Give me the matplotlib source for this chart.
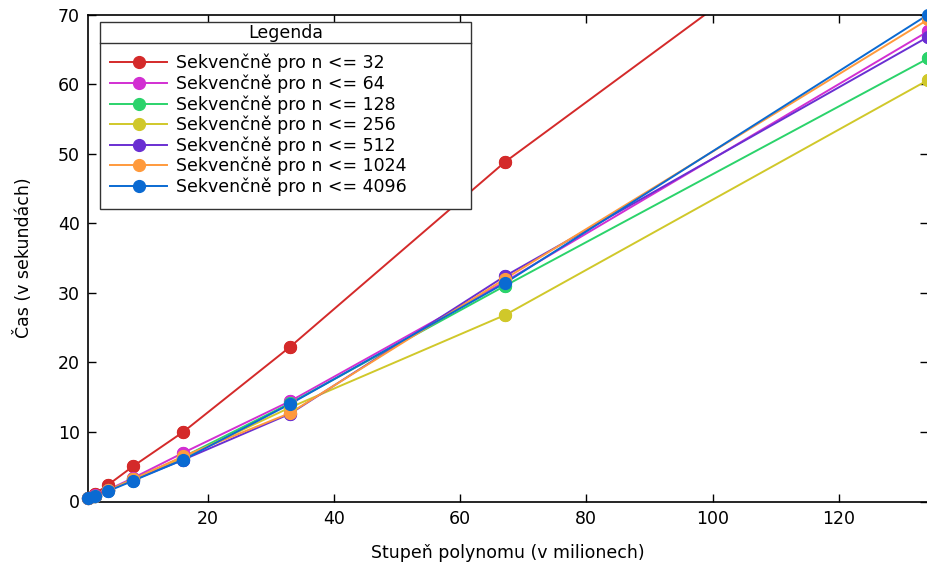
import matplotlib
matplotlib.use("Agg")
import matplotlib.pyplot as plt
from matplotlib.lines import Line2D
from matplotlib.patches import Rectangle

# stupen polynomu v milionech
degrees = [1.05, 2.1, 4.2, 8.2, 16.1, 33.0, 67.1, 134.2]

labels = ["Sekvenčně pro n <= 32", "Sekvenčně pro n <= 64", "Sekvenčně pro n <= 128",
          "Sekvenčně pro n <= 256", "Sekvenčně pro n <= 512", "Sekvenčně pro n <= 1024",
          "Sekvenčně pro n <= 4096"]

t32 = [0.55, 1.1, 2.4, 5.1, 10.0, 22.2, 48.8, 93.6]
t64 = [0.45, 0.9, 1.7, 3.4, 7.0, 14.4, 31.6, 67.6]
t128 = [0.45, 0.85, 1.6, 3.2, 6.4, 14.1, 31.0, 63.7]
t256 = [0.45, 0.85, 1.6, 3.2, 6.3, 13.5, 26.8, 60.6]
t512 = [0.45, 0.8, 1.6, 3.1, 6.0, 12.6, 32.4, 66.8]
t1024 = [0.45, 0.8, 1.6, 3.2, 6.5, 12.7, 32.0, 69.3]
t4096 = [0.45, 0.8, 1.5, 3.0, 6.0, 14.0, 31.4, 70.0]

series = [t32, t64, t128, t256, t512, t1024, t4096]
colors = ["#d42a2a", "#d22fd2", "#2bd36b", "#d0c82a", "#6a2fd2", "#ff9a3c", "#0a6ad2"]

plt.rcParams['font.family'] = ['DejaVu Sans']
plt.rcParams['font.size'] = 12.5

W, H = 928, 567
fig = plt.figure(figsize=(W / 100, H / 100), dpi=100)
ax = fig.add_axes([88.3 / W, 65.5 / H, 840 / W, 487 / H])

for ys, c, lab in zip(series, colors, labels):
    ax.plot(degrees, ys, "-o", color=c, lw=1.4, ms=8.5, label=lab)
    ax.plot(degrees, ys, "o", color=c, ms=8.5, clip_on=False, zorder=3)

ax.set_xlim(degrees[0], degrees[-1])
ax.set_ylim(0, 70)
ax.set_xticks([20, 40, 60, 80, 100, 120])
ax.set_yticks(range(0, 71, 10))
ax.tick_params(direction="in", length=6, width=1, top=True, right=True, pad=6)
for s in ax.spines.values():
    s.set_linewidth(1.2)

ax.set_xlabel("Stupeň polynomu (v milionech)", labelpad=12)
ax.set_ylabel("Čas (v sekundách)", labelpad=18)

# legend box with title row, like gnuplot
x0, x1, ytop, ysep, ybot = 99.7, 471.3, 22.3, 43.3, 209.0
fig.add_artist(Rectangle((x0 / W, 1 - ybot / H), (x1 - x0) / W, (ybot - ytop) / H,
                         transform=fig.transFigure, facecolor="white",
                         edgecolor="#333333", lw=1.0, zorder=5))
fig.add_artist(Line2D([x0 / W, x1 / W], [1 - ysep / H, 1 - ysep / H],
                      color="#333333", lw=1.0, transform=fig.transFigure, zorder=6))
fig.text((x0 + x1) / 2 / W, 1 - (ytop + ysep) / 2 / H, "Legenda",
         ha="center", va="center", zorder=6)

handles = [Line2D([], [], color=c, lw=1.4, marker="o", ms=8.5) for c in colors]
leg = fig.legend(handles, labels, loc="upper left",
                 bbox_to_anchor=(110 / W, 1 - 54 / H),
                 frameon=False, handlelength=3.3, handletextpad=0.5,
                 labelspacing=0.12, borderpad=0, borderaxespad=0)
leg.set_zorder(7)

fig.savefig("out.png", dpi=100)
